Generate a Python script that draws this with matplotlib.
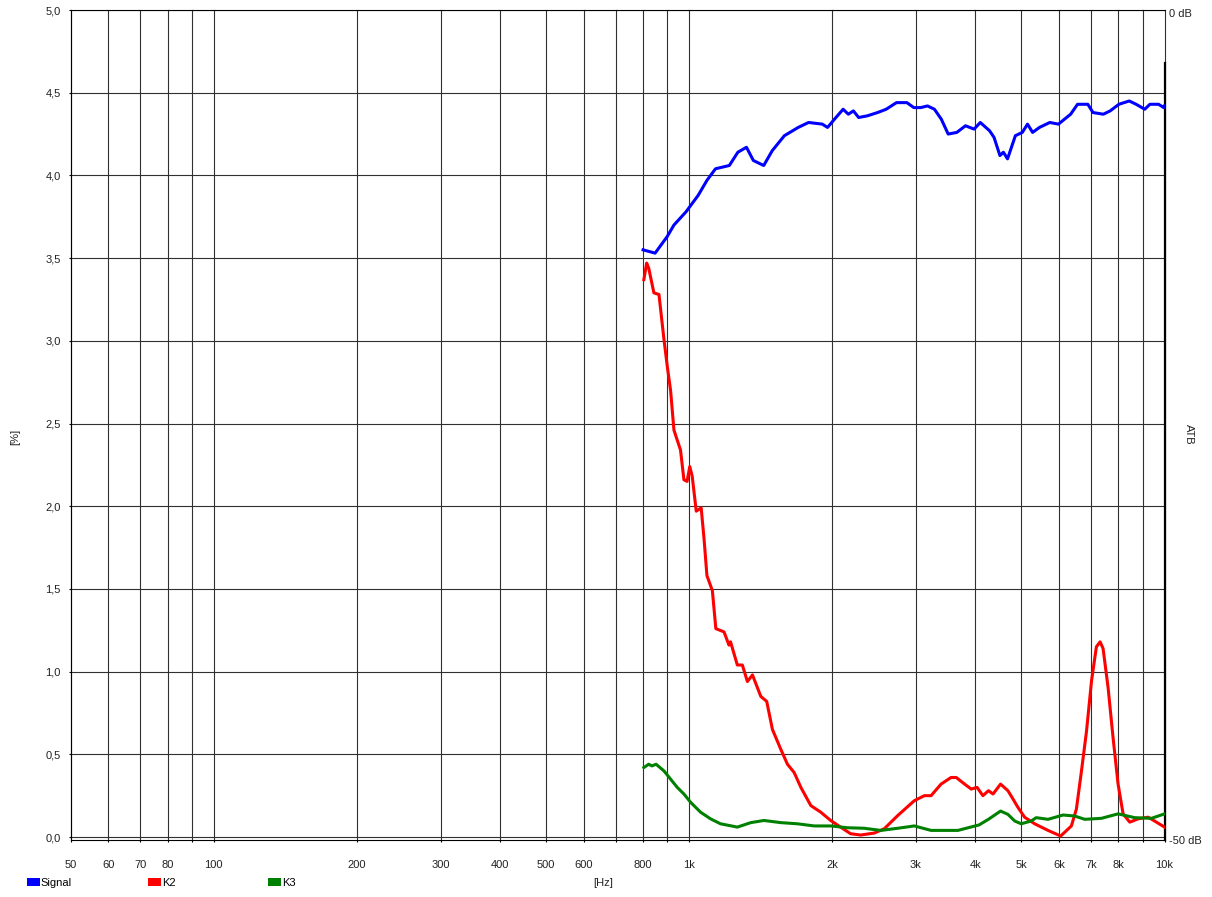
import matplotlib
matplotlib.use("Agg")
import matplotlib.pyplot as plt
from matplotlib.patches import Patch

plt.rcParams['font.family'] = ['Liberation Sans', 'DejaVu Sans']
plt.rcParams['font.size'] = 8

# --- data (frequency in Hz, value in %) ---
sig_f = [800, 848, 899, 929, 985, 1045, 1090, 1136, 1215, 1266, 1320, 1365, 1435, 1496,
         1586, 1696, 1783, 1906, 1955, 2022, 2108, 2162, 2216, 2273, 2369, 2491, 2597,
         2730, 2871, 2969, 3069, 3173, 3281, 3392, 3507, 3657, 3813, 3976, 4097, 4285,
         4379, 4506, 4582, 4675, 4856, 5022, 5150, 5279, 5457, 5737, 5983, 6347, 6563,
         6898, 7073, 7436, 7685, 8018, 8430, 8716, 9087, 9318, 9717, 9963, 10000]
sig_v = [3.55, 3.53, 3.63, 3.70, 3.78, 3.88, 3.97, 4.04, 4.06, 4.14, 4.17, 4.09, 4.06, 4.15,
         4.24, 4.29, 4.32, 4.31, 4.29, 4.34, 4.40, 4.37, 4.39, 4.35, 4.36, 4.38, 4.40,
         4.44, 4.44, 4.41, 4.41, 4.42, 4.40, 4.34, 4.25, 4.26, 4.30, 4.28, 4.32, 4.27,
         4.23, 4.12, 4.14, 4.10, 4.24, 4.26, 4.31, 4.26, 4.29, 4.32, 4.31, 4.37, 4.43,
         4.43, 4.38, 4.37, 4.39, 4.43, 4.45, 4.43, 4.40, 4.43, 4.43, 4.41, 4.42]

k2_f = [803, 814, 822, 843, 864, 885, 900, 914, 929, 959, 975, 990, 1003, 1015, 1035,
        1060, 1075, 1090, 1119, 1138, 1184, 1213, 1222, 1263, 1294, 1326, 1359, 1415,
        1456, 1497, 1559, 1610, 1663, 1718, 1803, 1892, 1985, 2082, 2186, 2295, 2452,
        2573, 2747, 2977, 3125, 3228, 3388, 3556, 3646, 3797, 3921, 4034, 4149, 4262,
        4358, 4520, 4684, 4800, 4915, 5077, 5331, 5689, 6048, 6370, 6527, 6689, 6854,
        7023, 7190, 7320, 7426, 7608, 7795, 7986, 8183, 8451, 8803, 9239, 9617, 10000]
k2_v = [3.37, 3.47, 3.44, 3.29, 3.28, 3.01, 2.84, 2.70, 2.46, 2.34, 2.16, 2.15, 2.24, 2.18,
        1.97, 1.99, 1.80, 1.58, 1.49, 1.26, 1.24, 1.16, 1.18, 1.04, 1.04, 0.94, 0.98, 0.85,
        0.82, 0.65, 0.53, 0.44, 0.39, 0.30, 0.19, 0.15, 0.10, 0.06, 0.02, 0.012, 0.024,
        0.05, 0.13, 0.22, 0.25, 0.25, 0.32, 0.36, 0.36, 0.32, 0.29, 0.30, 0.25, 0.28,
        0.26, 0.32, 0.28, 0.23, 0.18, 0.12, 0.08, 0.04, 0.006, 0.067, 0.17, 0.40, 0.64,
        0.945, 1.15, 1.18, 1.14, 0.905, 0.60, 0.32, 0.14, 0.09, 0.11, 0.12, 0.09, 0.06]

k3_f = [803, 822, 835, 852, 885, 914, 944, 975, 1007, 1057, 1109, 1164, 1263, 1348, 1437,
        1559, 1690, 1833, 1985, 2154, 2333, 2532, 2747, 2977, 3228, 3676, 4072, 4262,
        4520, 4684, 4840, 4995, 5243, 5372, 5689, 6117, 6472, 6797, 7365, 7986, 8658,
        9388, 10000]
k3_v = [0.42, 0.44, 0.43, 0.44, 0.40, 0.35, 0.30, 0.26, 0.21, 0.15, 0.11, 0.08, 0.06,
        0.087, 0.10, 0.087, 0.08, 0.067, 0.067, 0.056, 0.053, 0.04, 0.053, 0.067, 0.04,
        0.04, 0.073, 0.107, 0.157, 0.137, 0.097, 0.08, 0.097, 0.117, 0.107, 0.133, 0.127,
        0.107, 0.113, 0.14, 0.117, 0.113, 0.14]

x_ticks = [50, 60, 70, 80, 90, 100, 200, 300, 400, 500, 600, 700, 800, 900,
           1000, 2000, 3000, 4000, 5000, 6000, 7000, 8000, 9000, 10000]
x_labels = ['50', '60', '70', '80', '', '100', '200', '300', '400', '500', '600', '', '800', '',
            '1k', '2k', '3k', '4k', '5k', '6k', '7k', '8k', '', '10k']
y_ticks = [0.0, 0.5, 1.0, 1.5, 2.0, 2.5, 3.0, 3.5, 4.0, 4.5, 5.0]
db_ticks = [-50, 0]
db_labels = ['-50 dB', '0 dB']

series = [('Signal', sig_f, sig_v, '#0000ff'),
          ('K2', k2_f, k2_v, '#ff0000'),
          ('K3', k3_f, k3_v, '#008000')]

W, H = 1212, 897
fig = plt.figure(figsize=(W / 100, H / 100), dpi=100)
ax = fig.add_axes([70.7 / W, 1 - 840 / H, (1164.5 - 70.7) / W, 830 / H])

for name, f, v, col in series:
    ax.plot(f, v, color=col, lw=2.2, solid_joinstyle='round', label=name, zorder=3)

ax.set_xscale('log')
ax.set_xlim(50, 10000)
ax.set_ylim(-0.018, 5.0)
ax.set_xticks(x_ticks)
ax.set_xticklabels(x_labels)
ax.xaxis.set_minor_locator(plt.NullLocator())
ax.set_yticks(y_ticks)
ax.set_yticklabels([f"{t:.1f}".replace('.', ',') for t in y_ticks])
ax.grid(True, color='#303030', lw=0.8, zorder=1)
ax.set_axisbelow(True)
for gl in ax.get_xgridlines():
    gl.set_clip_on(False)
ax.tick_params(axis='x', length=1.5, width=0.8, pad=13, labelcolor='#222222')
ax.tick_params(axis='y', length=1.5, width=0.8, pad=5.8, labelcolor='#222222')

for side in ['left', 'top', 'bottom']:
    ax.spines[side].set_linewidth(0.8)
ax.spines['right'].set_bounds(-0.018, 4.68)
ax.spines['right'].set_linewidth(1.6)

# right dB scale
ax2 = ax.twinx()
ax2.set_ylim(-50, 0.2)
ax2.set_yticks(db_ticks)
ax2.set_yticklabels(db_labels)
ax2.tick_params(axis='y', length=0, pad=3.2, labelcolor='#222222')
for s in ax2.spines.values():
    s.set_visible(False)

fig.text(603 / W, 1 - 883 / H, '[Hz]', ha='center', va='center', color='#222222')
fig.text(15 / W, 1 - 437 / H, '[%]', ha='center', va='center', rotation=90, color='#222222')
fig.text(1189 / W, 1 - 434 / H, 'ATB', ha='center', va='center', rotation=-90, color='#222222')

# legend entries along the bottom
for (name, f, v, col), xpx in zip(series, [27, 148, 268]):
    fig.legend(handles=[Patch(facecolor=col, edgecolor='none', label=name)],
               loc='center left', bbox_to_anchor=(xpx / W, 1 - 882.5 / H),
               frameon=False, handlelength=1.15, handleheight=0.75,
               handletextpad=0.1, borderpad=0, borderaxespad=0)

fig.savefig('out.png', dpi=100)
